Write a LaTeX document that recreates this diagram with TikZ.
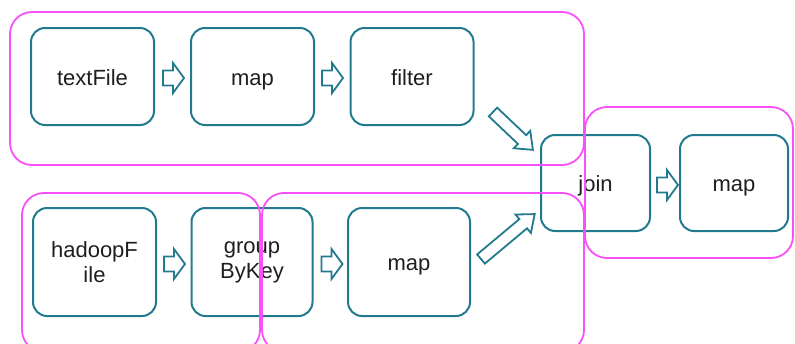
\documentclass[tikz,border=0pt]{standalone}
\usepackage{fontspec}
\setmainfont{Liberation Sans}
\begin{document}
\begin{tikzpicture}[x=1pt,y=-1pt,
  teal/.style={draw=tealc, line width=2pt},
  stage/.style={teal, rounded corners=14pt, minimum width=123pt, minimum height=97pt,
    inner sep=0pt, align=center, text=textc, font=\fontsize{22}{25}\selectfont},
  oneline/.style={text height=17pt, text depth=0pt},
  grp/.style={draw=magc, line width=1.8pt, rounded corners=22pt},
  smallarrow/.pic={\draw[teal, line width=1.8pt, line join=miter]
    (0,-7.5)--(10,-7.5)--(10,-15)--(21,0)--(10,15)--(10,7.5)--(0,7.5)--cycle;},
  longarrow/.pic={\draw[teal, line width=1.8pt, line join=miter]
    (0,-6)--(#1-15,-6)--(#1-15,-12)--(#1,0)--(#1-15,12)--(#1-15,6)--(0,6)--cycle;}
]
\definecolor{tealc}{RGB}{34,122,142}
\definecolor{magc}{RGB}{250,80,250}
\definecolor{textc}{RGB}{30,30,30}
\useasboundingbox (0,0) rectangle (795,343);

% stages
\node[stage, oneline] (tf) at (92.5,76.5) {textFile};
\node[stage, oneline] (m1) at (252.5,76.5) {map};
\node[stage, oneline] (fi) at (412,76.5) {filter};
\node[stage, oneline, minimum width=109pt, minimum height=96pt] (jo) at (595.5,183) {join};
\node[stage, oneline, minimum width=108pt, minimum height=96pt] (m3) at (734,183) {map};
\node[stage, minimum height=108pt] (hf) at (94.5,262) {hadoopF\\ile};
\node[stage, minimum width=121pt, minimum height=108pt] (gb) at (252,262) {group\\ByKey};
\node[stage, oneline, minimum width=122pt, minimum height=108pt] (m2) at (409,262) {map};

% block arrows
\pic at ([xshift=8pt,yshift=-1.5pt]tf.east) {smallarrow};
\pic at ([xshift=7pt,yshift=-1.5pt]m1.east) {smallarrow};
\pic at ([xshift=7pt,yshift=-2pt]hf.east) {smallarrow};
\pic at ([xshift=8pt,yshift=-2pt]gb.east) {smallarrow};
\pic at ([xshift=6pt,yshift=-2pt]jo.east) {smallarrow};
\coordinate (t1) at (493,112);
\coordinate (t2) at (481,259);
\pic[rotate=-43.5] at (t1) {longarrow=55};
\pic[rotate=39.9] at (t2) {longarrow=70};

% groups
\draw[grp] (10,12) rectangle (584,165);
\draw[grp] (585,107) rectangle (793,258);
\draw[grp] (22,193) rectangle (260,352);
\draw[grp] (262,193) rectangle (584,352);
\end{tikzpicture}
\end{document}
